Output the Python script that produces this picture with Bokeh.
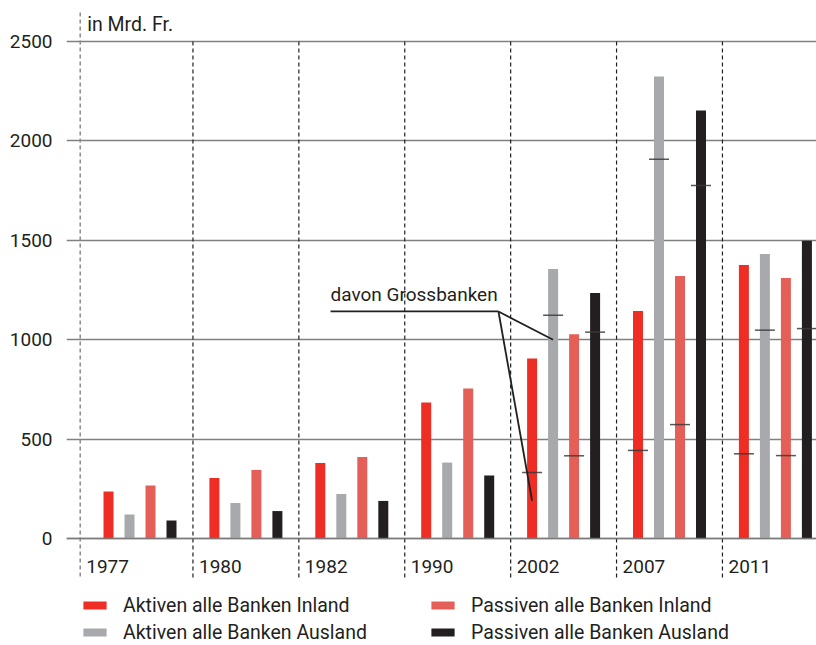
from bokeh.plotting import figure
from bokeh.models import (FixedTicker, Span, Legend, LegendItem)
from bokeh.core.properties import value
from bokeh.embed import file_html
from bokeh.resources import INLINE

# ---------------- data ----------------
years = ["1977", "1980", "1982", "1990", "2002", "2007", "2011"]
aktiven_inland = [236, 304, 380, 684, 905, 1144, 1376]
aktiven_ausland = [121, 179, 224, 382, 1356, 2324, 1431]
passiven_inland = [267, 345, 410, 754, 1028, 1320, 1310]
passiven_ausland = [91, 138, 189, 317, 1235, 2153, 1498]

# "davon Grossbanken" (from 2002 on)
gb_years = ["2002", "2007", "2011"]
gb_aktiven_inland = [332, 443, 426]
gb_aktiven_ausland = [1123, 1908, 1048]
gb_passiven_inland = [416, 573, 417]
gb_passiven_ausland = [1038, 1776, 1056]

series_names = ["Aktiven alle Banken Inland", "Aktiven alle Banken Ausland",
                "Passiven alle Banken Inland", "Passiven alle Banken Ausland"]
colors = ["#ee2e24", "#a7a9ac", "#e55f59", "#231f20"]
y_ticks = [0, 500, 1000, 1500, 2000, 2500]

FONT = "Roboto"
TXT = "#231f20"

# ---------------- figure ----------------
PX_PER_X = 105.9
W, H = 816, 645
left = 66
frame_w = W - left
x_start = (66 - 139.5) / PX_PER_X
x_end = x_start + frame_w / PX_PER_X
u_per_px = 2500 / 497.0
y_end = 2500 + 41 * u_per_px
y_start = -(H - 538) * u_per_px

p = figure(width=W, height=H, output_backend="svg", toolbar_location=None,
           x_range=(x_start, x_end), y_range=(y_start, y_end),
           x_axis_location=None, min_border_left=left, min_border_right=0,
           min_border_top=0, min_border_bottom=0, outline_line_color=None,
           background_fill_color="white", border_fill_color="white")

p.xgrid.visible = False
p.ygrid.ticker = FixedTicker(ticks=y_ticks)
p.ygrid.grid_line_color = "#808080"
p.ygrid.grid_line_width = 1.5

ya = p.yaxis[0]
ya.ticker = FixedTicker(ticks=y_ticks)
ya.axis_line_color = None
ya.major_tick_line_color = None
ya.minor_tick_line_color = None
ya.major_tick_out = 0
ya.major_tick_in = 0
ya.major_label_standoff = 14
ya.major_label_text_font = FONT
ya.major_label_text_font_size = "19px"
ya.major_label_text_color = TXT

# ---------------- separators ----------------
n = len(years)
idx = list(range(n))
bounds = [x_start + 13.7 / PX_PER_X] + [i - 0.5 for i in range(1, n)]
top_black = max(y_ticks)
bottom_sep = (538 - 577) * u_per_px
p.segment(x0=bounds[1:], x1=bounds[1:], y0=[top_black] * (n - 1), y1=[bottom_sep] * (n - 1),
          line_color="#231f20", line_width=1.2, line_dash="4 3")
p.segment(x0=[bounds[0]], x1=[bounds[0]], y0=[y_end - 12 * u_per_px], y1=[bottom_sep - 1 * u_per_px],
          line_color="#8a8a8a", line_width=1.5, line_dash="4 3")

# ---------------- bars ----------------
offsets = [-31.5 / PX_PER_X, -10.5 / PX_PER_X, 10.5 / PX_PER_X, 31.5 / PX_PER_X]
bar_w = 10 / PX_PER_X
all_series = [aktiven_inland, aktiven_ausland, passiven_inland, passiven_ausland]
renderers = []
for vals, off, col in zip(all_series, offsets, colors):
    r = p.vbar(x=[i + off for i in idx], top=vals, bottom=0, width=bar_w,
               fill_color=col, line_color=None)
    renderers.append(r)

# zero line over bars
p.add_layout(Span(location=0, dimension="width", line_color="#7a7a7a",
                  line_alpha=0.85, line_width=1.5, level="overlay"))

# ---------------- Grossbanken marks ----------------
gb_idx = [years.index(y) for y in gb_years]
gb_series = [gb_aktiven_inland, gb_aktiven_ausland, gb_passiven_inland, gb_passiven_ausland]
half = 10 / PX_PER_X
for vals, off in zip(gb_series, offsets):
    xs = [i + off for i in gb_idx]
    p.segment(x0=[x - half for x in xs], x1=[x + half for x in xs], y0=vals, y1=vals,
              line_color="#3a3a3a", line_alpha=0.85, line_width=1.5)

# ---------------- annotation ----------------
ann_i = years.index("2002")
ann_x0 = 1.799
ann_x1 = 3.385
ann_y = 1142
p.segment(x0=[ann_x0], x1=[ann_x1], y0=[ann_y], y1=[ann_y], line_color=TXT, line_width=1.8)
p.segment(x0=[ann_x1, ann_x1], y0=[ann_y, ann_y],
          x1=[ann_i + offsets[1], ann_i + offsets[0]], y1=[1000, 190],
          line_color=TXT, line_width=1.8)
p.text(x=[ann_x0], y=[ann_y], text=["davon Grossbanken"], text_font=value(FONT),
       text_font_size="19px", text_color=TXT, text_baseline="bottom", y_offset=-5)

# ---------------- labels ----------------
year_y = (538 - 566) * u_per_px
p.text(x=bounds, y=[year_y] * n, text=years, text_font=value(FONT),
       text_font_size="19px", text_color=TXT, text_baseline="middle", x_offset=6)
p.text(x=[bounds[0]], y=[max(y_ticks)], text=["in Mrd. Fr."], text_font=value(FONT),
       text_font_size="19.5px", text_color=TXT, text_baseline="middle", x_offset=7, y_offset=-17)

# ---------------- legend ----------------
def make_legend(items, loc):
    lg = Legend(items=items, location=loc, orientation="vertical",
                glyph_width=29, glyph_height=10, label_standoff=14,
                label_height=24, spacing=3, padding=0, margin=0,
                border_line_color=None, background_fill_alpha=0,
                label_text_font=FONT, label_text_font_size="19.5px",
                label_text_color=TXT)
    return lg

lg1 = make_legend([LegendItem(label=series_names[0], renderers=[renderers[0]]),
                   LegendItem(label=series_names[1], renderers=[renderers[1]])], (14, 1))
lg2 = make_legend([LegendItem(label=series_names[2], renderers=[renderers[2]]),
                   LegendItem(label=series_names[3], renderers=[renderers[3]])], (362, 1))
p.add_layout(lg1, "center")
p.add_layout(lg2, "center")

open("out.html", "w").write(file_html(p, INLINE))
